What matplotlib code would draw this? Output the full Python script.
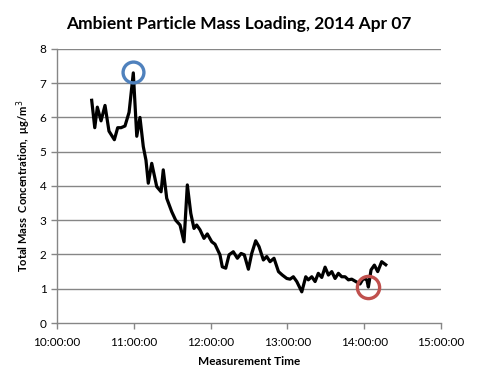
import matplotlib
matplotlib.use("Agg")
import matplotlib.pyplot as plt

plt.rcParams['font.family'] = ['Lato', 'DejaVu Sans']

# minutes after 10:00:00
minutes = [27.1, 29.5, 31.5, 34.4, 37.5, 40.6, 44.8, 47.4, 50.0, 53.1, 56.3, 59.6,
           62.3, 64.8, 67.4, 69.5, 71.3, 74.0, 77.9, 81.3, 83.0, 85.7, 89.6, 92.7,
           96.1, 99.2, 101.8, 104.5, 107.0, 109.1, 111.7, 114.8, 117.4, 120.9, 123.4,
           127.3, 129.1, 131.8, 134.4, 137.7, 140.9, 143.8, 146.3, 149.5, 152.1, 155.2,
           157.8, 161.2, 163.8, 166.4, 169.5, 173.0, 176.0, 179.5, 182.0, 184.6, 187.3,
           191.2, 194.3, 196.3, 199.0, 201.6, 204.1, 206.8, 209.4, 212.0, 214.6, 217.2,
           219.8, 222.4, 225.0, 227.6, 230.2, 233.4, 236.7, 239.3, 242.0, 243.2, 245.3,
           247.9, 250.5, 253.6, 256.8]
mass = [6.5, 5.7, 6.3, 5.9, 6.35, 5.6, 5.35, 5.7, 5.7, 5.75, 6.15, 7.3,
        5.45, 6.0, 5.15, 4.75, 4.08, 4.66, 3.98, 3.83, 4.47, 3.64, 3.25, 3.0,
        2.86, 2.37, 4.03, 3.2, 2.76, 2.86, 2.72, 2.47, 2.6, 2.37, 2.3,
        1.99, 1.64, 1.6, 1.99, 2.08, 1.89, 2.03, 1.99, 1.57, 2.03, 2.4,
        2.23, 1.84, 1.94, 1.79, 1.89, 1.5, 1.4, 1.3, 1.28, 1.35, 1.21,
        0.91, 1.35, 1.26, 1.35, 1.21, 1.45, 1.33, 1.63, 1.4, 1.5, 1.3,
        1.45, 1.35, 1.35, 1.26, 1.28, 1.21, 1.14, 1.3, 1.26, 1.05, 1.55,
        1.69, 1.5, 1.79, 1.7]

# highlighted points (max and min)
max_point = (59.6, 7.33)
min_point = (243.2, 1.05)

tick_hours = [10, 11, 12, 13, 14, 15]
tick_labels = ["10:00:00", "11:00:00", "12:00:00", "13:00:00", "14:00:00", "15:00:00"]
y_ticks = [0, 1, 2, 3, 4, 5, 6, 7, 8]

hours = [10 + m / 60 for m in minutes]

fig = plt.figure(figsize=(4.81, 3.85), dpi=100)
ax = fig.add_axes([0.1185, 0.161, 0.7985, 0.712])

grid_c = '#868686'
for v in y_ticks[1:]:
    ax.axhline(v, color=grid_c, lw=1.0, zorder=1)

ax.plot(hours, mass, color='black', lw=2.3, zorder=3, solid_joinstyle='round')

ax.plot(10 + max_point[0] / 60, max_point[1], marker='o', ms=15, mfc='none',
        mec='#4F81BD', mew=2.4, zorder=4)
ax.plot(10 + min_point[0] / 60, min_point[1], marker='o', ms=16, mfc='none',
        mec='#C0504D', mew=2.4, zorder=4)

ax.set_xlim(10, 15)
ax.set_ylim(0, 8)
ax.set_xticks(tick_hours)
ax.set_xticklabels(tick_labels)
ax.set_yticks(y_ticks)

for s in ['top', 'right']:
    ax.spines[s].set_visible(False)
for s in ['left', 'bottom']:
    ax.spines[s].set_color(grid_c)
    ax.spines[s].set_linewidth(1.0)
ax.tick_params(axis='both', direction='out', length=4, color=grid_c, labelsize=8.5,
               labelcolor='black', width=1.0)
ax.tick_params(axis='x', pad=6)

ax.set_xlabel("Measurement Time", fontsize=8.5, fontweight='bold', labelpad=6)
ax.set_ylabel("Total Mass  Concentration,  \u03bcg/m$^3$", fontsize=8, fontweight='bold',
              labelpad=5)

fig.text(0.497, 0.938, "Ambient Particle Mass Loading, 2014 Apr 07", ha='center', va='center',
         fontsize=12.5, fontweight='bold')

fig.savefig("out.png", dpi=100)
